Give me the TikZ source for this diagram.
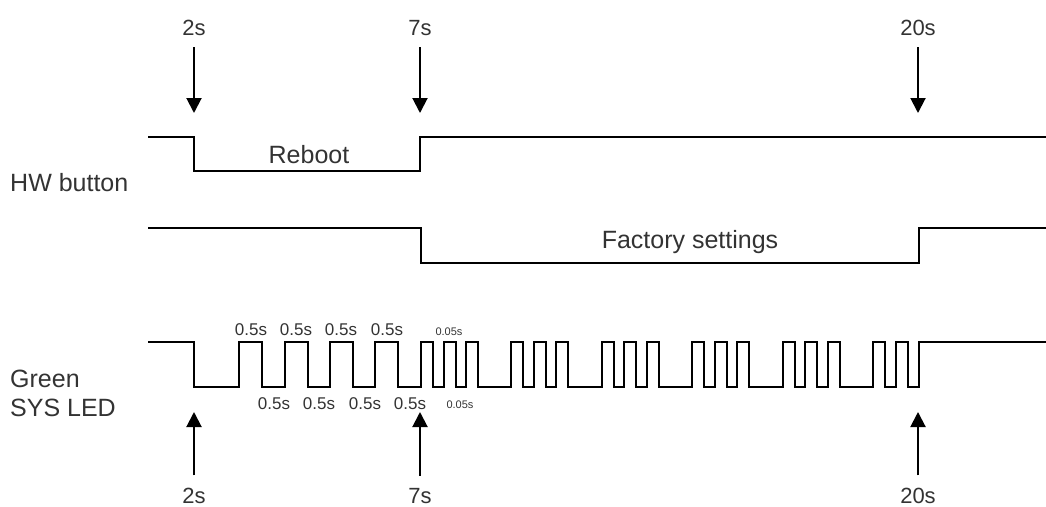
\documentclass[tikz,border=0pt]{standalone}
\usepackage{fontspec}
\setmainfont{Liberation Sans}
\usetikzlibrary{arrows.meta}
\definecolor{txtgray}{gray}{0.2}

\begin{document}
\begin{tikzpicture}[x=1pt, y=-1pt,
    wave/.style={line width=2pt, line join=miter},
    tarrow/.style={-{Triangle[width=15pt,length=15pt]}, line width=2pt, shorten <=12pt},
    lbl/.style={inner sep=0pt, anchor=base, text=txtgray, font=\fontsize{25}{29}\selectfont},
    tlbl/.style={lbl, font=\fontsize{22}{26}\selectfont},
    dlbl/.style={lbl, font=\fontsize{17}{20}\selectfont},
    slbl/.style={lbl, font=\fontsize{11}{13}\selectfont}]
    \useasboundingbox (0,0) rectangle (1046,506);

    % HW button : reboot line
    \draw[wave] (148,137) -- (194,137) -- (194,171) -- (420,171) -- (420,137) -- (1046,137);
    \node[lbl] (reboot) at (309,163) {Reboot};

    % HW button : factory settings line
    \draw[wave] (148,228) -- (421,228) -- (421,263) -- (919,263) -- (919,228) -- (1046,228);
    \node[lbl] (factory) at (690,248) {Factory settings};

    % Signal names
    \node[lbl, anchor=base west] (hwbutton) at (10,191) {HW button};
    \node[lbl, anchor=base west] (green) at (10,387) {Green};
    \node[lbl, anchor=base west] (sysled) at (10,416) {SYS LED};

    % Green SYS LED : slow blinking, then fast bursts
    \draw[wave] (148,342) -- (194,342) -- (194,387)
        \foreach \u in {239,285,330,375} { -- (\u,387) -- (\u,342) -- (\u+23,342) -- (\u+23,387) }
        \foreach \u in {421,443.5,466,511.4,533.9,556.4,601.8,624.3,646.8,692.2,714.7,737.2,782.6,805.1,827.6,873,895.5}
            { -- (\u,387) -- (\u,342) -- (\u+12,342) -- (\u+12,387) }
        -- (919,387) -- (919,342) -- (1046,342);

    % Durations
    \foreach \x [count=\i] in {251,296,341,387}
        \node[dlbl] (on\i) at (\x,335) {0.5s};
    \foreach \x [count=\i] in {274,319,365,410}
        \node[dlbl] (off\i) at (\x,409) {0.5s};
    \node[slbl] (fastOn) at (449,335) {0.05s};
    \node[slbl] (fastOff) at (460,408) {0.05s};

    % Time marks, top
    \node[tlbl] (t2top) at (194,35) {2s};
    \node[tlbl] (t7top) at (420,35) {7s};
    \node[tlbl] (t20top) at (918,35) {20s};
    \coordinate (a2top) at (194,113);
    \coordinate (a7top) at (420,113);
    \coordinate (a20top) at (918,113);
    \draw[tarrow] (t2top) -- (a2top);
    \draw[tarrow] (t7top) -- (a7top);
    \draw[tarrow] (t20top) -- (a20top);

    % Time marks, bottom
    \node[tlbl] (t2bot) at (194,503) {2s};
    \node[tlbl] (t7bot) at (420,503) {7s};
    \node[tlbl] (t20bot) at (918,503) {20s};
    \coordinate (a2bot) at (194,412);
    \coordinate (a7bot) at (420,412);
    \coordinate (a20bot) at (918,412);
    \draw[tarrow] (t2bot) -- (a2bot);
    \draw[tarrow] (t7bot) -- (a7bot);
    \draw[tarrow] (t20bot) -- (a20bot);
\end{tikzpicture}
\end{document}
